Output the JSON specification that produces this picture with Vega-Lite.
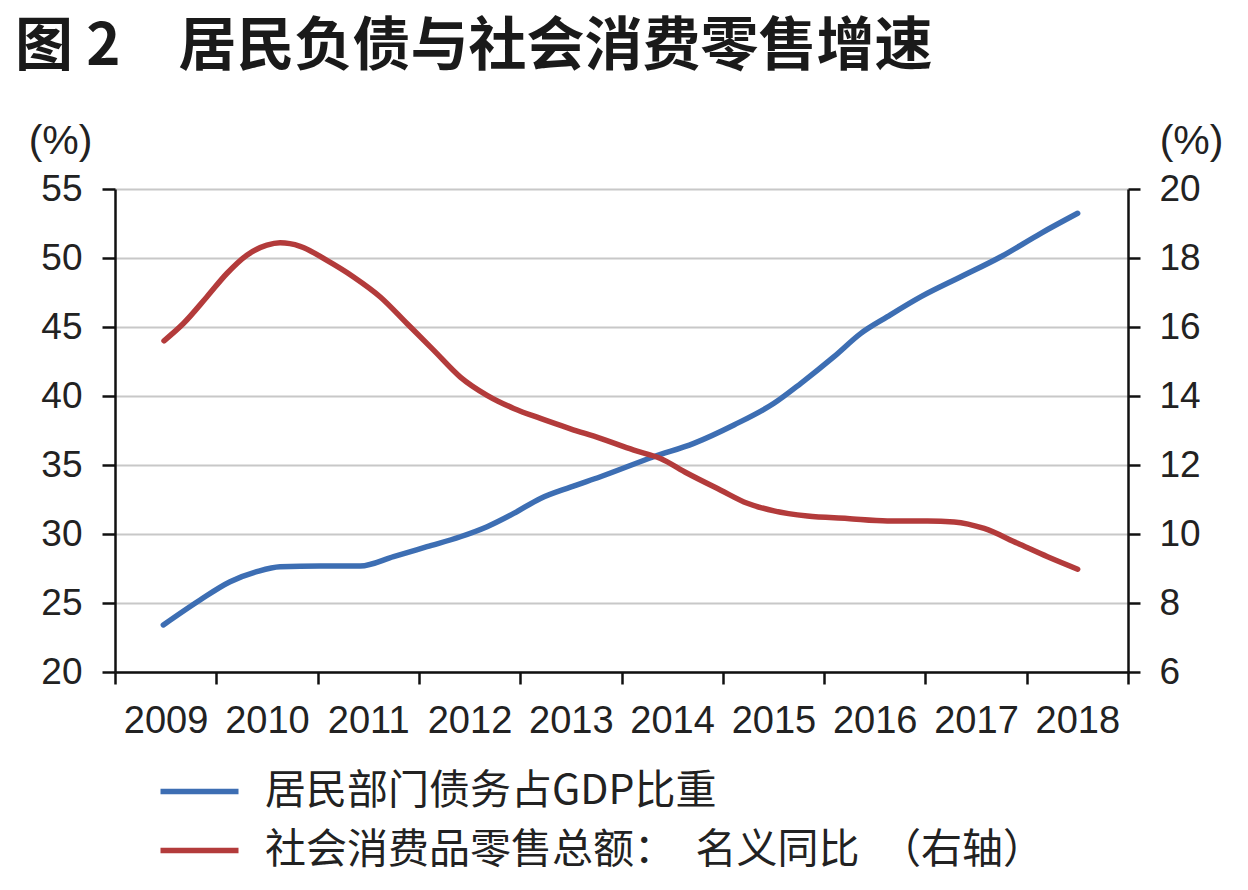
{
  "$schema": "https://vega.github.io/schema/vega-lite/v6.json",
  "width": 1013,
  "height": 483,
  "autosize": {"type": "none"},
  "padding": {"left": 115, "top": 189, "right": 120, "bottom": 218},
  "background": "white",
  "title": {
    "text": "图 2　居民负债与社会消费零售增速",
    "anchor": "start",
    "frame": "group",
    "font": "Noto Sans CJK SC",
    "fontSize": 58,
    "fontWeight": "bold",
    "color": "#1a1a1a",
    "dx": -100,
    "dy": 13,
    "baseline": "alphabetic",
    "offset": 10
  },
  "datasets": {
    "debt": [
      {"year": 2009.477, "value": 23.41},
      {"year": 2009.840, "value": 25.22},
      {"year": 2010.136, "value": 26.54},
      {"year": 2010.400, "value": 27.27},
      {"year": 2010.630, "value": 27.63},
      {"year": 2011.026, "value": 27.68},
      {"year": 2011.421, "value": 27.68},
      {"year": 2011.750, "value": 28.36},
      {"year": 2012.080, "value": 29.08},
      {"year": 2012.409, "value": 29.80},
      {"year": 2012.673, "value": 30.53},
      {"year": 2012.936, "value": 31.49},
      {"year": 2013.200, "value": 32.58},
      {"year": 2013.496, "value": 33.40},
      {"year": 2013.792, "value": 34.15},
      {"year": 2014.319, "value": 35.60},
      {"year": 2014.714, "value": 36.57},
      {"year": 2015.110, "value": 37.90},
      {"year": 2015.505, "value": 39.47},
      {"year": 2015.771, "value": 40.92},
      {"year": 2016.098, "value": 42.85},
      {"year": 2016.363, "value": 44.54},
      {"year": 2016.625, "value": 45.75},
      {"year": 2016.957, "value": 47.20},
      {"year": 2017.350, "value": 48.64},
      {"year": 2017.745, "value": 50.09},
      {"year": 2018.140, "value": 51.79},
      {"year": 2018.503, "value": 53.24}
    ],
    "retail": [
      {"year": 2009.484, "value": 15.60},
      {"year": 2009.675, "value": 16.10},
      {"year": 2009.906, "value": 16.87},
      {"year": 2010.104, "value": 17.55},
      {"year": 2010.301, "value": 18.08},
      {"year": 2010.499, "value": 18.37},
      {"year": 2010.630, "value": 18.44},
      {"year": 2010.828, "value": 18.34},
      {"year": 2011.092, "value": 17.93},
      {"year": 2011.355, "value": 17.45},
      {"year": 2011.619, "value": 16.87},
      {"year": 2011.882, "value": 16.10},
      {"year": 2012.145, "value": 15.33},
      {"year": 2012.409, "value": 14.55},
      {"year": 2012.673, "value": 14.02},
      {"year": 2012.936, "value": 13.64},
      {"year": 2013.200, "value": 13.35},
      {"year": 2013.496, "value": 13.05},
      {"year": 2013.792, "value": 12.77},
      {"year": 2014.122, "value": 12.43},
      {"year": 2014.385, "value": 12.19},
      {"year": 2014.649, "value": 11.76},
      {"year": 2014.980, "value": 11.27},
      {"year": 2015.242, "value": 10.89},
      {"year": 2015.505, "value": 10.67},
      {"year": 2015.835, "value": 10.52},
      {"year": 2016.230, "value": 10.45},
      {"year": 2016.625, "value": 10.38},
      {"year": 2017.021, "value": 10.38},
      {"year": 2017.284, "value": 10.35},
      {"year": 2017.580, "value": 10.16},
      {"year": 2017.910, "value": 9.73},
      {"year": 2018.206, "value": 9.34},
      {"year": 2018.503, "value": 8.98}
    ]
  },
  "config": {
    "view": {"stroke": null},
    "axis": {
      "labelFont": "Liberation Sans",
      "labelFontSize": 37,
      "labelColor": "#222222",
      "titleFont": "Liberation Sans",
      "titleFontSize": 41,
      "titleFontWeight": "normal",
      "titleColor": "#222222",
      "domainColor": "#111111",
      "domainWidth": 2.5,
      "tickColor": "#111111",
      "tickWidth": 2.5
    }
  },
  "layer": [
    {
      "data": {"name": "debt"},
      "mark": {"type": "line", "strokeWidth": 5.5, "interpolate": "monotone", "strokeCap": "round"},
      "encoding": {
        "x": {
          "field": "year",
          "type": "quantitative",
          "scale": {"domain": [2009, 2019], "nice": false, "zero": false},
          "axis": {
            "values": [2009, 2010, 2011, 2012, 2013, 2014, 2015, 2016, 2017, 2018, 2019],
            "format": "d",
            "labelExpr": "datum.value >= 2019 ? '' : datum.label",
            "labelOffset": 50.6,
            "labelFlush": false,
            "labelOverlap": false,
            "labelFontSize": 38,
            "grid": false,
            "title": null,
            "tickSize": 12,
            "labelPadding": 18
          }
        },
        "y": {
          "field": "value",
          "type": "quantitative",
          "scale": {"domain": [20, 55], "nice": false, "zero": false},
          "axis": {
            "orient": "left",
            "values": [20, 25, 30, 35, 40, 45, 50, 55],
            "title": "(%)",
            "titleAngle": 0,
            "titleX": -55,
            "titleY": -36,
            "titleAlign": "center",
            "titleBaseline": "alphabetic",
            "grid": true,
            "gridColor": "#c8c8c8",
            "gridWidth": 2,
            "tickSize": 13,
            "labelPadding": 20
          }
        },
        "color": {
          "datum": "居民部门债务占GDP比重",
          "type": "nominal",
          "scale": {
            "domain": ["居民部门债务占GDP比重", "社会消费品零售总额：　名义同比　（右轴）"],
            "range": ["#3d6eb3", "#b33b3b"]
          },
          "legend": {
            "orient": "none",
            "legendX": 64,
            "legendY": 582,
            "direction": "vertical",
            "title": null,
            "symbolType": "M-3,0H3",
            "symbolSize": 676,
            "symbolStrokeWidth": 5.5,
            "labelFont": "Noto Sans CJK SC",
            "labelFontSize": 41,
            "labelColor": "#222222",
            "labelOffset": 45,
            "labelLimit": 1000,
            "rowPadding": 17,
            "padding": 0
          }
        }
      }
    },
    {
      "data": {"name": "retail"},
      "mark": {"type": "line", "strokeWidth": 5.5, "interpolate": "monotone", "strokeCap": "round"},
      "encoding": {
        "x": {"field": "year", "type": "quantitative"},
        "y": {
          "field": "value",
          "type": "quantitative",
          "scale": {"domain": [6, 20], "nice": false, "zero": false},
          "axis": {
            "orient": "right",
            "values": [6, 8, 10, 12, 14, 16, 18, 20],
            "title": "(%)",
            "titleAngle": 0,
            "titleX": 63,
            "titleY": -36,
            "titleAlign": "center",
            "titleBaseline": "alphabetic",
            "grid": false,
            "tickSize": 12,
            "labelPadding": 19
          }
        },
        "color": {"datum": "社会消费品零售总额：　名义同比　（右轴）", "type": "nominal"}
      }
    }
  ],
  "resolve": {"scale": {"y": "independent"}}
}
